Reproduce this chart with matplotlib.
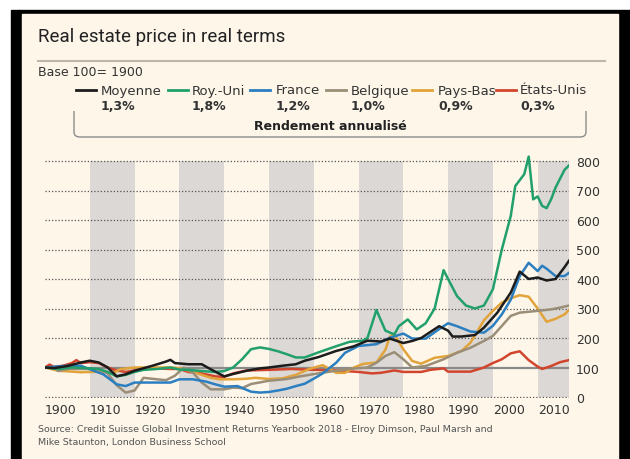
import matplotlib
matplotlib.use('Agg')
import matplotlib.pyplot as plt
from matplotlib.patches import Rectangle, PathPatch
from matplotlib.path import Path

# --- data (base 100 = 1900) ---
moy_years = [1900, 1902, 1905, 1908, 1910, 1912, 1914, 1916, 1918, 1920, 1924, 1927, 1928, 1929,
             1932, 1935, 1937, 1940, 1942, 1945, 1948, 1950, 1953, 1956, 1958, 1961, 1965, 1969,
             1972, 1975, 1977, 1980, 1982, 1984, 1986, 1988, 1990, 1991, 1993, 1996, 1998, 2001,
             2004, 2006, 2008, 2010, 2012, 2014, 2016, 2017]
moy_vals = [100, 98, 105, 117, 123, 117, 100, 70, 77, 89, 106, 120, 126, 115,
            111, 111, 94, 70, 78, 89, 97, 100, 106, 111, 123, 135, 156, 172,
            191, 188, 198, 183, 190, 200, 220, 240, 225, 205, 205, 210, 235, 286,
            354, 425, 400, 405, 395, 400, 440, 462]

uk_years = [1900, 1903, 1906, 1909, 1912, 1914, 1916, 1918, 1920, 1922, 1925, 1928, 1930, 1932,
            1935, 1938, 1940, 1942, 1944, 1946, 1948, 1950, 1952, 1954, 1956, 1958, 1961, 1965,
            1968, 1971, 1972, 1974, 1976, 1978, 1979, 1981, 1983, 1985, 1987, 1989, 1990, 1992,
            1994, 1996, 1998, 2000, 2002, 2004, 2005, 2007, 2008, 2009, 2010, 2011, 2012, 2013,
            2014, 2016, 2017]
uk_vals = [100, 95, 100, 98, 95, 85, 70, 75, 85, 92, 95, 100, 93, 92,
           88, 85, 88, 100, 128, 162, 168, 163, 155, 145, 134, 134, 151, 172,
           187, 191, 200, 295, 225, 212, 240, 263, 229, 250, 300, 430, 400, 342,
           310, 300, 310, 365, 500, 614, 715, 755, 815, 670, 680, 648, 640, 670,
           710, 770, 785]

fr_years = [1900, 1905, 1908, 1910, 1913, 1916, 1918, 1920, 1925, 1928, 1930, 1933, 1936, 1938,
            1940, 1943, 1946, 1948, 1950, 1952, 1954, 1956, 1958, 1960, 1962, 1965, 1967, 1970,
            1974, 1977, 1980, 1982, 1985, 1988, 1990, 1992, 1995, 1998, 2000, 2002, 2004, 2006,
            2008, 2010, 2011, 2012, 2014, 2016, 2017]
fr_vals = [100, 106, 106, 94, 77, 43, 37, 49, 49, 49, 60, 60, 52, 43,
           35, 37, 18, 15, 17, 22, 28, 37, 45, 62, 80, 116, 150, 173,
           179, 201, 215, 198, 198, 230, 250, 240, 222, 218, 241, 280, 330, 410,
           455, 427, 445, 435, 410, 410, 421]

be_years = [1900, 1902, 1903, 1905, 1910, 1912, 1914, 1916, 1918, 1920, 1922, 1925, 1927, 1929,
            1931, 1933, 1935, 1937, 1940, 1942, 1944, 1946, 1950, 1954, 1957, 1961, 1965, 1968,
            1972, 1974, 1976, 1978, 1980, 1982, 1985, 1989, 1992, 1995, 1998, 2000, 2002, 2004,
            2006, 2010, 2013, 2015, 2017]
be_vals = [100, 98, 88, 95, 95, 93, 80, 40, 15, 22, 65, 60, 57, 72,
           100, 83, 49, 26, 26, 32, 30, 44, 55, 61, 70, 80, 89, 95,
           100, 116, 139, 152, 128, 100, 105, 128, 150, 167, 190, 207, 241, 275,
           286, 292, 297, 303, 310]

nl_years = [1900, 1903, 1908, 1913, 1915, 1917, 1920, 1925, 1928, 1930, 1932, 1935, 1937, 1939,
            1942, 1945, 1947, 1950, 1953, 1956, 1959, 1962, 1965, 1967, 1969, 1971, 1974, 1976,
            1977, 1978, 1980, 1982, 1984, 1987, 1990, 1993, 1995, 1998, 2000, 2002, 2004, 2006,
            2008, 2010, 2012, 2014, 2016, 2017]
nl_vals = [100, 89, 84, 86, 80, 95, 100, 100, 100, 98, 90, 75, 65, 60,
           60, 62, 65, 61, 63, 75, 95, 108, 82, 82, 100, 112, 117, 160,
           205, 212, 162, 122, 113, 133, 139, 156, 184, 260, 292, 320, 335, 345,
           340, 300, 255, 265, 280, 295]

us_years = [1900, 1901, 1902, 1904, 1906, 1907, 1908, 1910, 1912, 1914, 1916, 1918, 1920, 1922,
            1925, 1928, 1930, 1932, 1935, 1938, 1940, 1942, 1945, 1950, 1955, 1960, 1965, 1970,
            1973, 1975, 1978, 1980, 1984, 1986, 1989, 1990, 1995, 1998, 2000, 2002, 2004, 2006,
            2008, 2010, 2011, 2013, 2015, 2017]
us_vals = [100, 110, 102, 106, 115, 125, 115, 118, 115, 100, 90, 85, 90, 95,
           97, 95, 95, 85, 80, 70, 68, 80, 90, 92, 95, 92, 90, 85,
           80, 82, 90, 85, 85, 92, 97, 86, 86, 100, 115, 128, 148, 155,
           125, 103, 95, 105, 118, 125]

names = ['Moyenne', 'Roy.-Uni', 'France', 'Belgique', 'Pays-Bas', 'États-Unis']
rates = ['1,3%', '1,8%', '1,2%', '1,0%', '0,9%', '0,3%']
colors = ['#1c1c1c', '#21a06c', '#2b7fc0', '#9b8e78', '#e2a43a', '#d2452d']
series = [(moy_years, moy_vals), (uk_years, uk_vals), (fr_years, fr_vals),
          (be_years, be_vals), (nl_years, nl_vals), (us_years, us_vals)]

year_ticks = list(range(1900, 2011, 10))
value_ticks = list(range(0, 801, 100))
bands = [(1910, 1920), (1930, 1940), (1950, 1960), (1970, 1980), (1990, 2000), (2010, 2017)]

cream = '#fdf6e9'
W, H = 630, 460

fig = plt.figure(figsize=(6.3, 4.6), dpi=100, facecolor='white')

def box(x0, y0, x1, y1, color):
    # pixel box, y measured from the top
    fig.patches.append(Rectangle((x0 / W, 1 - y1 / H), (x1 - x0) / W, (y1 - y0) / H,
                                 transform=fig.transFigure, color=color, zorder=-10))

box(11, 11, 630, 460, 'black')
box(22, 15, 618, 460, cream)

def ftext(x, y, s, **kw):
    fig.text(x / W, 1 - y / H, s, va='center', **kw)

ftext(38, 37, 'Real estate price in real terms', fontsize=13.5, color='#222',
      family=['Liberation Sans Narrow', 'Roboto'])
fig.add_artist(plt.Line2D([38 / W, 605 / W], [1 - 62 / H, 1 - 62 / H], color='#bcb8a8', lw=1.5))
ftext(38, 73, 'Base 100= 1900', fontsize=9, color='#333')

line_x = [76, 168, 250, 326, 412, 496]
text_x = [101, 192, 276, 351, 438, 520]
for lx, tx, name, rate, c in zip(line_x, text_x, names, rates, colors):
    fig.add_artist(plt.Line2D([lx / W, (lx + 20) / W], [1 - 91 / H, 1 - 91 / H], color=c, lw=2))
    ftext(tx, 91, name, fontsize=9.5, color='#333')
    ftext(tx, 106, rate, fontsize=9, color='#333', weight='bold')

# bracket under the legend
def inch(x, y):
    return (x / 100, (H - y) / 100)
verts = [inch(74, 112), inch(74, 133), inch(74, 138), inch(80, 138), inch(580, 138),
         inch(586, 138), inch(586, 133), inch(586, 112)]
codes = [Path.MOVETO, Path.LINETO, Path.CURVE3, Path.CURVE3, Path.LINETO,
         Path.CURVE3, Path.CURVE3, Path.LINETO]
fig.patches.append(PathPatch(Path(verts, codes), transform=fig.dpi_scale_trans,
                             fill=False, edgecolor='#8c8c8c', lw=1))
ftext(330, 126, 'Rendement annualisé', fontsize=9, color='#222', weight='bold', ha='center')

# --- chart ---
ylo, yhi = -5, 830
y0px, kpx = 398, 0.295
ax = fig.add_axes([45 / W, (H - (y0px - kpx * ylo)) / H, 524 / W, kpx * (yhi - ylo) / H])
ax.set_facecolor('none')
ax.set_xlim(1900, 2017)
ax.set_ylim(ylo, yhi)
for s in ax.spines.values():
    s.set_visible(False)

for a, b in bands:
    ax.fill_between([a, b], 0, 800, color='#dcd8d5', lw=0, zorder=0)
for v in value_ticks:
    if v != 100:
        ax.axhline(v, color='#555', lw=0.9, ls=(0, (1, 1.6)), zorder=1)
ax.axhline(100, color='#8a8a8a', lw=1.6, zorder=2)

for (yrs, vals), c in reversed(list(zip(series, colors))):
    ax.plot(yrs, vals, color=c, lw=1.8, zorder=3, solid_joinstyle='round')

ax.set_xticks(year_ticks)
ax.set_xticklabels([str(y) for y in year_ticks], ha='left')
ax.set_yticks(value_ticks)
ax.yaxis.tick_right()
ax.tick_params(length=0, labelsize=9, colors='#333')
ax.tick_params(axis='x', pad=3)
ax.tick_params(axis='y', pad=5)

ftext(38, 430, 'Source: Credit Suisse Global Investment Returns Yearbook 2018 - Elroy Dimson, Paul Marsh and',
      fontsize=6.8, color='#555')
ftext(38, 443, 'Mike Staunton, London Business School', fontsize=6.8, color='#555')

plt.savefig('out.png', dpi=100, facecolor='white')
